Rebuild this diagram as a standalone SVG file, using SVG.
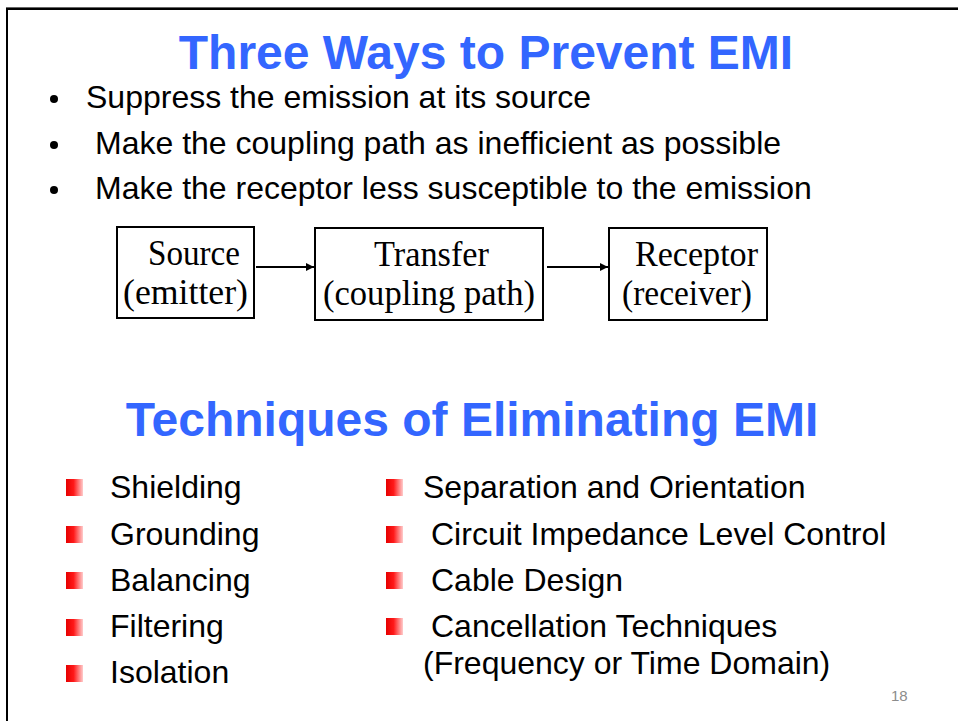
<svg xmlns="http://www.w3.org/2000/svg" width="958" height="721" viewBox="0 0 958 721">
<style>
.title{font-family:"Liberation Sans",Arial,sans-serif;font-weight:bold;font-size:48px;fill:#3366FF;text-anchor:middle}
.body{font-family:"Liberation Sans",Arial,sans-serif;font-size:32px;fill:#000}
.box{fill:#fff;stroke:#000;stroke-width:2}
.btxt{font-family:"Liberation Serif","Times New Roman",serif;font-size:35px;fill:#000}
.conn{stroke:#000;stroke-width:2;fill:none}
.pg{font-family:"Liberation Sans",Arial,sans-serif;font-size:15px;fill:#8c8c8c}
</style>
<defs>
<linearGradient id="redsq" x1="0" y1="0" x2="1" y2="0">
<stop offset="0" stop-color="#E60000"/>
<stop offset="0.45" stop-color="#FF1A1A"/>
<stop offset="1" stop-color="#FFCCCC"/>
</linearGradient>
<marker id="arr" viewBox="0 0 10 10" refX="10" refY="5" markerWidth="8" markerHeight="8" markerUnits="userSpaceOnUse" orient="auto">
<path d="M0,0 L10,5 L0,10 z" fill="#000"/>
</marker>
<rect id="sq" width="17" height="17" fill="url(#redsq)"/>
</defs>
<rect width="958" height="721" fill="#fff"/>
<rect x="6" y="7" width="952" height="1" fill="#666"/>
<rect x="6" y="8" width="952" height="2" fill="#000"/>
<rect x="6" y="8" width="2" height="713" fill="#000"/>

<text class="title" x="486" y="69">Three Ways to Prevent EMI</text>

<g id="bullets1">
<circle cx="54" cy="99" r="4" fill="#000"/>
<text class="body" x="86" y="108">Suppress the emission at its source</text>
<circle cx="54" cy="145" r="4" fill="#000"/>
<text class="body" x="95" y="154">Make the coupling path as inefficient as possible</text>
<circle cx="54" cy="190" r="4" fill="#000"/>
<text class="body" x="95" y="199">Make the receptor less susceptible to the emission</text>
</g>

<g id="connectors">
<line class="conn" x1="256" y1="267" x2="314" y2="267" marker-end="url(#arr)"/>
<line class="conn" x1="547" y1="267" x2="608" y2="267" marker-end="url(#arr)"/>
</g>

<g id="source">
<rect class="box" x="117" y="227" width="137" height="91"/>
<text class="btxt" x="148" y="265" textLength="92" lengthAdjust="spacingAndGlyphs">Source</text>
<text class="btxt" x="123" y="304" textLength="125" lengthAdjust="spacingAndGlyphs">(emitter)</text>
</g>
<g id="transfer">
<rect class="box" x="315" y="228" width="228" height="92"/>
<text class="btxt" x="374" y="266" textLength="115" lengthAdjust="spacingAndGlyphs">Transfer</text>
<text class="btxt" x="323" y="305" textLength="212" lengthAdjust="spacingAndGlyphs">(coupling path)</text>
</g>
<g id="receptor">
<rect class="box" x="609" y="228" width="158" height="92"/>
<text class="btxt" x="635" y="266" textLength="123" lengthAdjust="spacingAndGlyphs">Receptor</text>
<text class="btxt" x="622" y="305" textLength="130" lengthAdjust="spacingAndGlyphs">(receiver)</text>
</g>

<text class="title" x="472" y="436">Techniques of Eliminating EMI</text>

<g id="list-left">
<use href="#sq" x="66" y="479"/>
<text class="body" x="110" y="498">Shielding</text>
<use href="#sq" x="66" y="526"/>
<text class="body" x="110" y="545">Grounding</text>
<use href="#sq" x="66" y="572"/>
<text class="body" x="110" y="591">Balancing</text>
<use href="#sq" x="66" y="619"/>
<text class="body" x="110" y="637">Filtering</text>
<use href="#sq" x="66" y="665"/>
<text class="body" x="110" y="683">Isolation</text>
</g>

<g id="list-right">
<use href="#sq" x="386" y="479"/>
<text class="body" x="423" y="498">Separation and Orientation</text>
<use href="#sq" x="386" y="526"/>
<text class="body" x="431" y="545">Circuit Impedance Level Control</text>
<use href="#sq" x="386" y="572"/>
<text class="body" x="431" y="591">Cable Design</text>
<use href="#sq" x="386" y="618"/>
<text class="body" x="431" y="637">Cancellation Techniques</text>
<text class="body" x="423" y="674">(Frequency or Time Domain)</text>
</g>

<text class="pg" x="891" y="701">18</text>
</svg>
